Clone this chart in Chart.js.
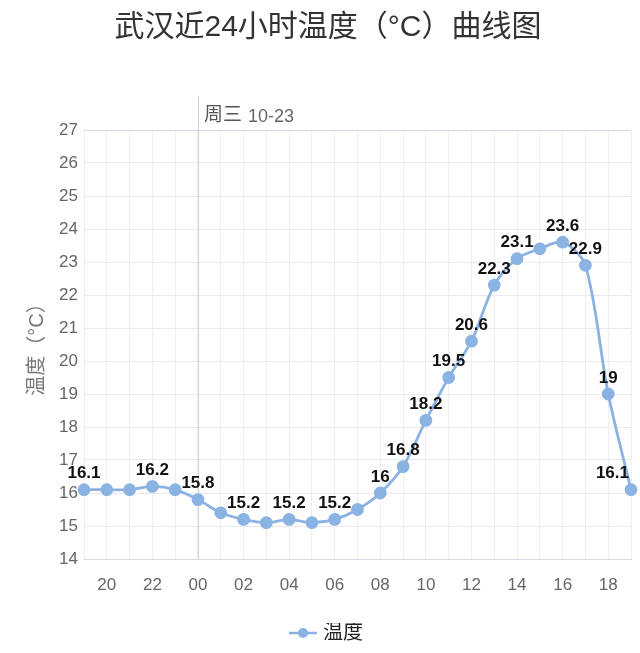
<!DOCTYPE html>
<html><head><meta charset="utf-8">
<script src="https://cdn.jsdelivr.net/npm/chart.js@4/dist/chart.umd.min.js"></script>
<style>html,body{margin:0;padding:0;background:#fff;}#wrap{width:640px;height:653px;}</style>
</head><body><div id="wrap"><canvas id="c" width="640" height="653"></canvas></div>
<script>
const hours = ['19','20','21','22','23','00','01','02','03','04','05','06','07','08','09','10','11','12','13','14','15','16','17','18','19'];
const temps = [16.1,16.1,16.1,16.2,16.1,15.8,15.4,15.2,15.1,15.2,15.1,15.2,15.5,16,16.8,18.2,19.5,20.6,22.3,23.1,23.4,23.6,22.9,19,16.1];
const showLabel = [1,0,0,1,0,1,0,1,0,1,0,1,0,1,1,1,1,1,1,1,0,1,1,1,1];
const yTicks = [14,15,16,17,18,19,20,21,22,23,24,25,26,27];
const dayMarkerIndex = 5;
const dayMarkerText = ['周三', '10-23'];

const FONT = "'Liberation Sans','Noto Sans CJK SC',sans-serif";
const LINE = '#8ab3e3';

const dataLabels = {
  id: 'dataLabels',
  afterDatasetsDraw(chart) {
    const ctx = chart.ctx;
    const meta = chart.getDatasetMeta(0);
    const area = chart.chartArea;
    ctx.save();
    ctx.font = 'bold 17px ' + FONT;
    ctx.fillStyle = '#111';
    ctx.textAlign = 'center';
    ctx.textBaseline = 'middle';
    meta.data.forEach((pt, i) => {
      if (!showLabel[i]) return;
      const t = String(temps[i]);
      const w = ctx.measureText(t).width;
      let x = Math.min(pt.x, area.right - w / 2 - 2);
      ctx.fillText(t, x, pt.y - 16);
    });
    ctx.restore();
  }
};

const dayMarker = {
  id: 'dayMarker',
  beforeDatasetsDraw(chart) {
    const ctx = chart.ctx;
    const x = chart.scales.x.getPixelForValue(dayMarkerIndex);
    const area = chart.chartArea;
    ctx.save();
    ctx.strokeStyle = '#cdd1e8';
    ctx.lineWidth = 1;
    ctx.beginPath();
    ctx.moveTo(Math.round(x) + 0.5, 96);
    ctx.lineTo(Math.round(x) + 0.5, area.bottom);
    ctx.stroke();
    ctx.fillStyle = '#555';
    ctx.textBaseline = 'middle';
    ctx.textAlign = 'left';
    ctx.font = '19px ' + FONT;
    ctx.fillText(dayMarkerText[0], x + 6, 116);
    const w = ctx.measureText(dayMarkerText[0]).width + 6;
    ctx.fillStyle = '#666';
    ctx.font = '18px ' + FONT;
    ctx.fillText(dayMarkerText[1], x + 6 + w, 117);
    ctx.restore();
  }
};

function legendIcon() {
  const c = document.createElement('canvas');
  c.width = 28; c.height = 12;
  const g = c.getContext('2d');
  g.strokeStyle = LINE; g.lineWidth = 2.5;
  g.beginPath(); g.moveTo(0, 6); g.lineTo(28, 6); g.stroke();
  g.fillStyle = LINE;
  g.beginPath(); g.arc(14, 6, 5, 0, Math.PI * 2); g.fill();
  return c;
}
const icon = legendIcon();

new Chart(document.getElementById('c'), {
  type: 'line',
  data: {
    labels: hours,
    datasets: [{
      label: '温度',
      data: temps,
      borderColor: LINE,
      backgroundColor: LINE,
      borderWidth: 2.8,
      pointRadius: 5,
      pointBackgroundColor: LINE,
      pointBorderColor: LINE,
      tension: 0.3,
      fill: false
    }]
  },
  options: {
    responsive: false,
    animation: false,
    layout: { autoPadding: false, padding: { left: 25, right: 9, top: 0, bottom: 0 } },
    plugins: {
      title: {
        display: true,
        text: '武汉近24小时温度（°C）曲线图',
        color: '#333',
        font: { family: FONT, size: 30, weight: 'normal' },
        padding: { top: 10, bottom: 84 }
      },
      legend: {
        position: 'bottom',
        labels: {
          color: '#222',
          font: { family: FONT, size: 20 },
          usePointStyle: true,
          padding: 0,
          generateLabels(chart) {
            return [{ text: '温度', pointStyle: icon, fillStyle: LINE, strokeStyle: LINE, lineWidth: 0, datasetIndex: 0, fontColor: '#222' }];
          }
        }
      },
      tooltip: { enabled: false }
    },
    scales: {
      x: {
        afterFit(s) { s.height = 64; s.paddingLeft = 0; s.paddingRight = 0; },
        grid: { color: '#eeeff5', drawTicks: false },
        border: { color: '#d6d9ec' },
        ticks: {
          autoSkip: false,
          maxRotation: 0,
          padding: 16,
          color: '#666',
          font: { family: FONT, size: 17 },
          callback(v, i) { return i % 2 === 1 ? hours[i] : ''; }
        }
      },
      y: {
        min: 14, max: 27,
        afterBuildTicks(s) { s.ticks = yTicks.map(v => ({ value: v })); },
        afterFit(s) { s.width = 59; s.paddingTop = 0; s.paddingBottom = 0; },
        grid: { color: (c) => c.tick && c.tick.value === 27 ? '#d3d7ec' : '#e8e9f1', drawTicks: false },
        border: { display: false },
        ticks: { color: '#666', padding: 6, font: { family: FONT, size: 17 } },
        title: { display: true, text: '温度（°C）', color: '#777', font: { family: FONT, size: 20 }, padding: { top: 0, bottom: 0 } }
      }
    }
  },
  plugins: [dayMarker, dataLabels]
});
</script></body></html>
